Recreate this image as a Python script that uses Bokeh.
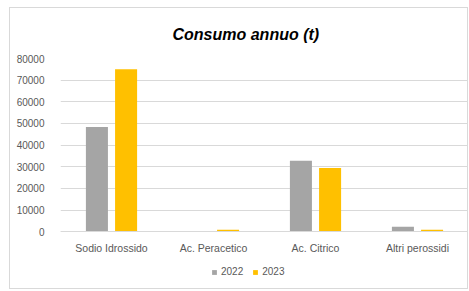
from bokeh.plotting import figure
from bokeh.models import ColumnDataSource, Range1d, FactorRange, Legend, LegendItem, Title, NumeralTickFormatter
from bokeh.transform import dodge
from bokeh.embed import file_html
from bokeh.resources import INLINE

categories = ["Sodio Idrossido", "Ac. Peracetico", "Ac. Citrico", "Altri perossidi"]
series_2022 = [48400, 50, 32800, 2300]
series_2023 = [75000, 900, 29400, 900]
y_ticks = [0, 10000, 20000, 30000, 40000, 50000, 60000, 70000, 80000]

src = ColumnDataSource(data=dict(cat=categories, v2022=series_2022, v2023=series_2023))

FONT = "Liberation Sans"
GREY_TXT = "#595959"

p = figure(x_range=FactorRange(*categories, range_padding=0), y_range=Range1d(-26200, 80000),
           width=459, height=282, output_backend="svg", toolbar_location=None,
           min_border_left=50, min_border_right=1, min_border_top=49, min_border_bottom=2)
p.styles = {"border": "1px solid #D9D9D9", "margin-left": "9px", "margin-top": "7px"}
p.outline_line_color = None
p.background_fill_color = "white"
p.border_fill_color = "white"

r1 = p.vbar(x=dodge("cat", -0.143, range=p.x_range), top="v2022", width=0.216, source=src,
            fill_color="#A5A5A5", line_color=None)
r2 = p.vbar(x=dodge("cat", 0.143, range=p.x_range), top="v2023", width=0.216, source=src,
            fill_color="#FFC000", line_color=None)

t = Title(text="Consumo annuo (t)", align="left", offset=112,
          text_font=FONT, text_font_size="16px", text_font_style="bold italic",
          text_color="black", standoff=31)
p.add_layout(t, "above")

p.yaxis.ticker = y_ticks
p.yaxis.formatter = NumeralTickFormatter(format="0")
p.yaxis.axis_line_color = None
p.yaxis.major_tick_line_color = None
p.yaxis.minor_tick_line_color = None
p.yaxis.major_label_text_font = FONT
p.yaxis.major_label_text_font_size = "10px"
p.yaxis.major_label_text_color = GREY_TXT
p.yaxis.major_label_standoff = 10

p.xaxis.fixed_location = 0
p.xaxis.axis_line_color = "#D9D9D9"
p.xaxis.major_tick_line_color = None
p.xaxis.minor_tick_line_color = None
p.xaxis.major_label_text_font = FONT
p.xaxis.major_label_text_font_size = "10.5px"
p.xaxis.major_label_text_color = GREY_TXT
p.xaxis.major_label_standoff = 4

p.xgrid.grid_line_color = None
p.ygrid.grid_line_color = "#D9D9D9"

legend = Legend(items=[LegendItem(label="2022", renderers=[r1]),
                       LegendItem(label="2023", renderers=[r2])],
                orientation="horizontal", location=(151, 11),
                glyph_width=6, glyph_height=6, label_standoff=4, spacing=9,
                padding=0, margin=0, border_line_color=None, background_fill_alpha=0,
                label_text_font=FONT, label_text_font_size="10px", label_text_color=GREY_TXT,
                label_height=10)
p.add_layout(legend, "center")

open("out.html", "w").write(file_html(p, INLINE))
